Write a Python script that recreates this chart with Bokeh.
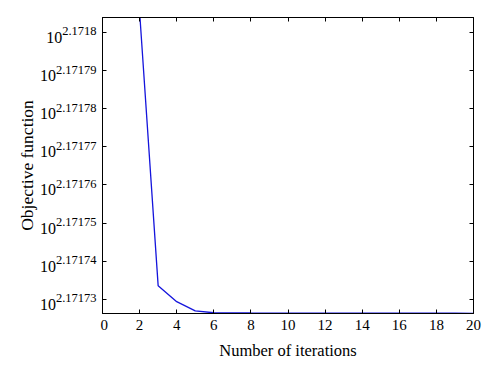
import math
from bokeh.plotting import figure
from bokeh.layouts import row
from bokeh.models import Range1d, FixedTicker, LinearAxis
from bokeh.core.properties import value
from bokeh.embed import file_html
from bokeh.resources import INLINE

# Data: iteration number and log10 of the objective function value
iterations = [1, 2, 3, 4, 5, 6, 7, 8, 9, 10, 11, 12, 13, 14, 15, 16, 17, 18, 19, 20]
objective_log10 = [2.17195, 2.1718054, 2.1717336, 2.1717294, 2.1717270, 2.1717265,
                   2.17172645, 2.17172643, 2.17172642, 2.17172642, 2.17172642, 2.17172641,
                   2.17172641, 2.17172641, 2.17172641, 2.17172640, 2.17172640, 2.17172640,
                   2.17172640, 2.1717263]

x_ticks = [0, 2, 4, 6, 8, 10, 12, 14, 16, 18, 20]
y_tick_exponents = [2.17173, 2.17174, 2.17175, 2.17176, 2.17177, 2.17178, 2.17179, 2.1718]
y_tick_texts = ["2.17173", "2.17174", "2.17175", "2.17176", "2.17177", "2.17178", "2.17179", "2.1718"]

FONT = "Liberation Serif"
TOP, BOTTOM = 17, 65
LEFT_W = 100

y_range = Range1d(2.1717263, 2.1718039)

# ---- main plot ----
p = figure(width=500 - LEFT_W, height=378, output_backend="svg", toolbar_location=None,
           x_range=Range1d(0, 20), y_range=y_range,
           min_border_left=2, min_border_right=27, min_border_top=TOP, min_border_bottom=BOTTOM,
           background_fill_color="white", border_fill_color="white")

p.line(iterations, objective_log10, line_color="#1414dc", line_width=1.3)

p.grid.visible = False
p.outline_line_color = "black"
p.outline_line_width = 1

xa = p.xaxis[0]
xa.ticker = FixedTicker(ticks=x_ticks)
xa.minor_tick_line_color = None
xa.major_tick_in = 4
xa.major_tick_out = 0
xa.major_label_standoff = 6
xa.major_label_text_font = FONT
xa.major_label_text_font_size = "15px"
xa.major_label_text_color = "black"
xa.axis_line_color = "black"
xa.major_tick_line_color = "black"
xa.axis_label = "Number of iterations"
xa.axis_label_text_font = FONT
xa.axis_label_text_font_size = "16.5px"
xa.axis_label_text_font_style = "normal"
xa.axis_label_text_color = "black"
xa.axis_label_standoff = 8

ya = p.yaxis[0]
ya.ticker = FixedTicker(ticks=y_tick_exponents)
ya.minor_tick_line_color = None
ya.major_tick_in = 4
ya.major_tick_out = 0
ya.major_label_standoff = 0
ya.major_label_overrides = {t: "" for t in y_tick_exponents}
ya.major_label_text_color = None
ya.axis_line_color = "black"
ya.major_tick_line_color = "black"

top = LinearAxis(ticker=FixedTicker(ticks=x_ticks), major_tick_in=4, major_tick_out=0,
                 major_label_overrides={t: "" for t in x_ticks}, major_label_text_color=None,
                 major_label_standoff=0, minor_tick_line_color=None, axis_line_color="black")
right = LinearAxis(ticker=FixedTicker(ticks=y_tick_exponents), major_tick_in=4, major_tick_out=0,
                   major_label_overrides={t: "" for t in y_tick_exponents}, major_label_text_color=None,
                   major_label_standoff=0, minor_tick_line_color=None, axis_line_color="black")
p.add_layout(top, "above")
p.add_layout(right, "right")

# ---- left strip holding the 10^exponent tick labels and the y-axis title ----
lf = figure(width=LEFT_W, height=378, output_backend="svg", toolbar_location=None,
            x_range=Range1d(0, LEFT_W), y_range=y_range,
            x_axis_location=None, y_axis_location=None,
            min_border_left=0, min_border_right=0, min_border_top=TOP, min_border_bottom=BOTTOM,
            background_fill_color="white", border_fill_color="white", outline_line_color=None)
lf.grid.visible = False

SUP_SIZE = 12.5
sup_right = LEFT_W - 4
sup_x = [sup_right] * len(y_tick_texts)
base_x = [sup_right - SUP_SIZE * (0.5 * sum(c.isdigit() for c in s) + 0.25 * s.count("."))
          for s in y_tick_texts]
lf.text(x=sup_x, y=y_tick_exponents, text=y_tick_texts, y_offset=-1,
        text_align="right", text_baseline="alphabetic",
        text_font=value(FONT), text_font_size=f"{SUP_SIZE}px", text_color="black")
lf.text(x=base_x, y=y_tick_exponents, text=["10"] * len(y_tick_texts), y_offset=5,
        text_align="right", text_baseline="alphabetic",
        text_font=value(FONT), text_font_size="16px", text_color="black")

mid = (y_range.start + y_range.end) / 2
lf.text(x=[26], y=[mid], text=["Objective function"], angle=math.pi / 2,
        text_align="center", text_baseline="middle",
        text_font=value(FONT), text_font_size="17.5px", text_color="black")

layout = row(lf, p)
open("out.html", "w").write(file_html(layout, INLINE))
